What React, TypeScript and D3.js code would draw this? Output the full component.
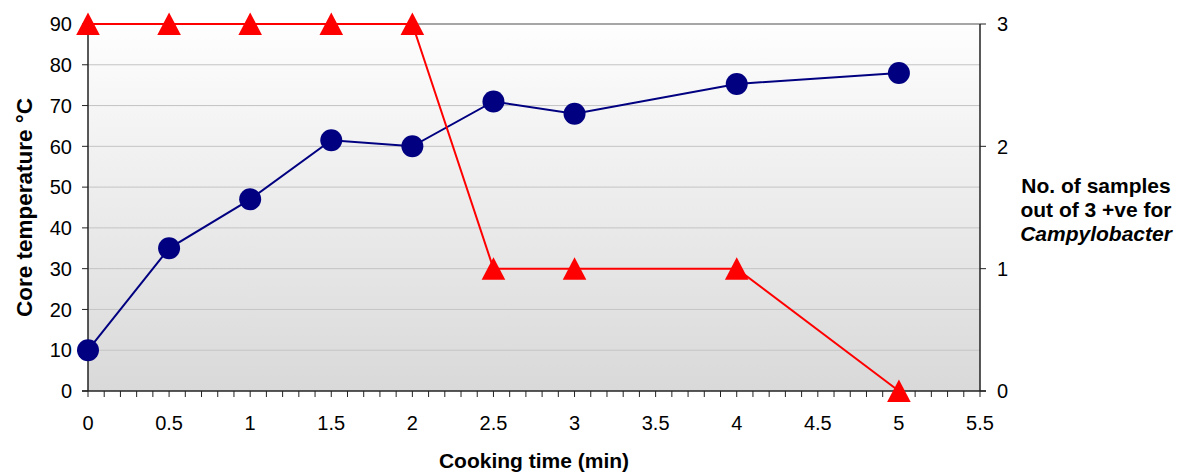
import React from "react";
import * as d3 from "d3";

const times = [0, 0.5, 1, 1.5, 2, 2.5, 3, 4, 5];
const temperature = [10, 35, 47, 61.5, 60, 71, 68, 75.3, 78];
const positives = [3, 3, 3, 3, 3, 1, 1, 1, 0];
const xTicks = [0, 0.5, 1, 1.5, 2, 2.5, 3, 3.5, 4, 4.5, 5, 5.5];
const yTicks = [0, 10, 20, 30, 40, 50, 60, 70, 80, 90];
const y2Ticks = [0, 1, 2, 3];

const W = 1189, H = 472;
const L = 88, R = 980, T = 24, B = 391;
const FONT = "'Liberation Sans', Arial, sans-serif";

export default function App() {
  const x = d3.scaleLinear().domain([0, 5.5]).range([L, R]);
  const y = d3.scaleLinear().domain([0, 90]).range([B, T]);
  const y2 = d3.scaleLinear().domain([0, 3]).range([B, T]);
  const minor = d3.range(0, 56).map((i) => i / 10);
  const tempLine = d3.line<number>().x((_, i) => x(times[i])).y((d) => y(d))(temperature) || "";
  const posLine = d3.line<number>().x((_, i) => x(times[i])).y((d) => y2(d))(positives) || "";
  const tri = "M0,-11.5L11.8,11L-11.8,11Z";
  return (
    <svg width={W} height={H} style={{ position: "absolute", left: 0, top: 0 }} fontFamily={FONT}>
      <defs>
        <linearGradient id="bg" x1="0" y1="0" x2="0" y2="1">
          <stop offset="0" stopColor="#fefefe" />
          <stop offset="1" stopColor="#d9d9d9" />
        </linearGradient>
      </defs>
      <rect x={L} y={T} width={R - L} height={B - T} fill="url(#bg)" />
      {yTicks.filter((t) => t > 0 && t < 90).map((t) => (
        <line key={t} x1={L} x2={R} y1={y(t)} y2={y(t)} stroke="#c4c4c4" strokeWidth={1} />
      ))}
      <line x1={L} x2={R} y1={T} y2={T} stroke="#888" strokeWidth={1.5} />
      <line x1={L} x2={L} y1={T} y2={B} stroke="#222" strokeWidth={1.5} />
      <line x1={R} x2={R} y1={T} y2={B} stroke="#222" strokeWidth={1.5} />
      <line x1={L - 6} x2={R + 6} y1={B} y2={B} stroke="#222" strokeWidth={1.5} />
      {minor.map((t) => (
        <line key={t} x1={x(t)} x2={x(t)} y1={B} y2={B + 6} stroke="#222" strokeWidth={1} />
      ))}
      {yTicks.map((t) => (
        <g key={t}>
          <line x1={L - 6} x2={L} y1={y(t)} y2={y(t)} stroke="#222" strokeWidth={1} />
          <text x={L - 16} y={y(t)} dy="0.36em" textAnchor="end" fontSize={20} fill="#000">{t}</text>
        </g>
      ))}
      {y2Ticks.map((t) => (
        <g key={t}>
          <line x1={R} x2={R + 6} y1={y2(t)} y2={y2(t)} stroke="#222" strokeWidth={1} />
          <text x={R + 17} y={y2(t)} dy="0.36em" textAnchor="start" fontSize={20} fill="#000">{t}</text>
        </g>
      ))}
      {xTicks.map((t) => (
        <text key={t} x={x(t)} y={430} textAnchor="middle" fontSize={20} fill="#000">{t}</text>
      ))}
      <path d={tempLine} fill="none" stroke="#000080" strokeWidth={2} />
      {temperature.map((d, i) => (
        <circle key={i} cx={x(times[i])} cy={y(d)} r={11} fill="#000080" />
      ))}
      <path d={posLine} fill="none" stroke="#ff0000" strokeWidth={2} />
      {positives.map((d, i) => (
        <path key={i} d={tri} transform={`translate(${x(times[i])},${y2(d)})`} fill="#ff0000" />
      ))}
      <text x={534} y={468} textAnchor="middle" fontSize={21} fontWeight="bold" fill="#000">Cooking time (min)</text>
      <text transform={`translate(32,207.5) rotate(-90)`} textAnchor="middle" fontSize={22.5} fontWeight="bold" fill="#000">Core temperature °C</text>
      <text textAnchor="middle" fontSize={21} fontWeight="bold" fill="#000">
        <tspan x={1096} y={193}>No. of samples</tspan>
        <tspan x={1096} y={217}>out of 3 +ve for</tspan>
        <tspan x={1096} y={241} fontStyle="italic">Campylobacter</tspan>
      </text>
    </svg>
  );
}
